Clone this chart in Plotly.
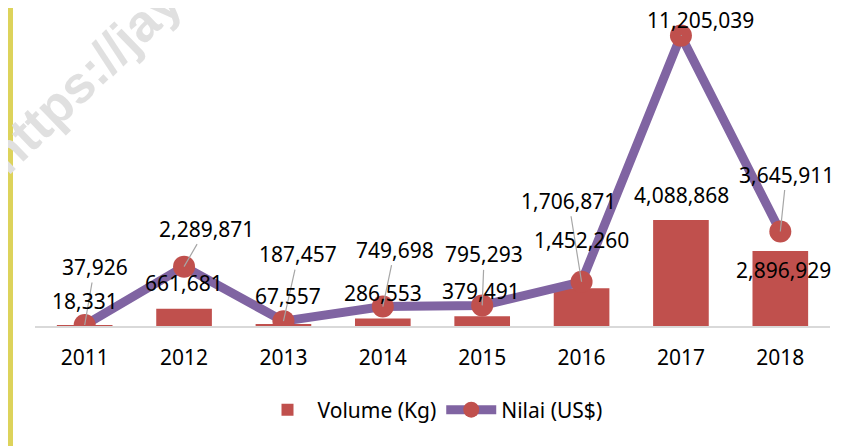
import plotly.graph_objects as go

# ---- data ----
years = ["2011", "2012", "2013", "2014", "2015", "2016", "2017", "2018"]
volume_kg = [18331, 661681, 67557, 286553, 379491, 1452260, 4088868, 2896929]
nilai_usd = [37926, 2289871, 187457, 749698, 795293, 1706871, 11205039, 3645911]

# label offsets in pixels (text centre relative to mark)
nilai_label_dx = [10, 22, 15, 12, 2, -13, 20, 6]
nilai_label_dy = [-58, -38, -67, -57, -51, -81, -16, -57]
vol_label_dx = [0, 0, 5, 0, -1, 0, 1, 3]
vol_label_dy = [25, 26, 28, 26, 25, 48, 25, -19]

# page body has an 8px margin; the figure fills the rest of the window
OFF = 8
W, H = 852, 438
ML, MR, MT, MB = 27, 30, 7, 120
FONT = "Noto Sans, Open Sans, sans-serif"
RED = "#C0504D"
PURPLE = "#8064A2"

xpos = list(range(len(years)))


def pxx(px):
    return (px - OFF - ML) / (W - ML - MR)


def pxy(py):
    return (H - MB - (py - OFF)) / (H - MT - MB)


fig = go.Figure()
fig.add_trace(go.Bar(
    x=xpos, y=volume_kg, name="Volume (Kg)",
    marker=dict(color=RED, line=dict(width=0)),
))
fig.add_trace(go.Scatter(
    x=xpos, y=nilai_usd, name="Nilai (US$)", mode="lines+markers",
    line=dict(color=PURPLE, width=9),
    marker=dict(color=RED, size=22, line=dict(width=0)),
))

annotations = []
for i in xpos:
    annotations.append(dict(
        x=i, y=nilai_usd[i], xref="x", yref="y",
        text=f"{nilai_usd[i]:,}", showarrow=True, arrowhead=0,
        arrowwidth=1.2, arrowcolor="#A6A6A6", standoff=0,
        ax=nilai_label_dx[i], ay=nilai_label_dy[i],
        font=dict(family=FONT, size=21, color="#000000"),
    ))
    annotations.append(dict(
        x=i, y=volume_kg[i], xref="x", yref="y",
        text=f"{volume_kg[i]:,}", showarrow=False,
        xanchor="center", yanchor="middle",
        xshift=vol_label_dx[i], yshift=vol_label_dy[i],
        font=dict(family=FONT, size=21, color="#000000"),
    ))

# watermark
annotations.append(dict(
    x=pxx(84), y=pxy(78), xref="paper", yref="paper",
    text="<b>https://jay</b>", showarrow=False, textangle=-44,
    xanchor="center", yanchor="middle",
    font=dict(family="Liberation Sans, Arial, sans-serif", size=52, color="#E0E0E0"),
))

shapes = [
    dict(type="rect", xref="paper", yref="paper",
         x0=pxx(8), x1=pxx(13), y0=pxy(H + OFF), y1=pxy(0),
         fillcolor="#DDD35B", line=dict(width=0), layer="above"),
    dict(type="rect", xref="paper", yref="paper",
         x0=pxx(857), x1=pxx(864), y0=pxy(H + OFF), y1=pxy(0),
         fillcolor="#DDD35B", line=dict(width=0), layer="above"),
]

fig.update_layout(
    width=W, height=H,
    margin=dict(l=ML, r=MR, t=MT, b=MB),
    paper_bgcolor="white", plot_bgcolor="white",
    bargap=0.44,
    showlegend=True,
    legend=dict(orientation="h", x=0.5, xanchor="center",
                y=pxy(410), yanchor="middle",
                font=dict(family=FONT, size=21, color="#000000"),
                itemwidth=50),
    xaxis=dict(range=[-0.5, len(years) - 0.5], tickmode="array",
               tickvals=xpos, ticktext=years,
               showgrid=False, showline=True, zeroline=False,
               linecolor="#D9D9D9", linewidth=1.5,
               ticks="", tickfont=dict(family=FONT, size=21, color="#000000"),
               ticklabelstandoff=12),
    yaxis=dict(range=[0, 12000000], visible=False, showgrid=False, zeroline=False),
    annotations=annotations,
    shapes=shapes,
)

fig.write_html("out.html")
